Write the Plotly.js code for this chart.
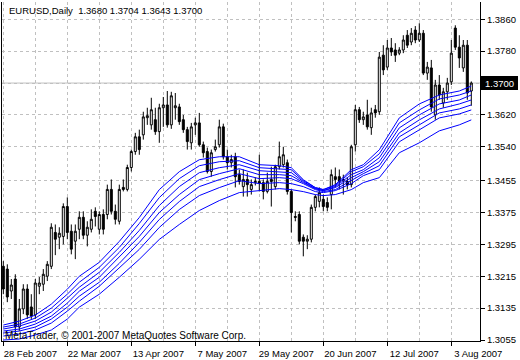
<!DOCTYPE html>
<html><head><meta charset="utf-8">
<script src="https://cdn.plot.ly/plotly-3.0.1.min.js"></script>
<style>html,body{margin:0;padding:0;background:#fff;}#chart{width:520px;height:360px;}</style>
</head><body><div id="chart"></div>
<script>
// Daily EURUSD bars, 28 Feb 2007 .. 10 Aug 2007 (one per trading day)
const opens = [1.3240,1.3233,1.3178,1.3208,1.3088,1.3133,1.3183,1.3138,1.3118,1.3190,
1.3195,1.3215,1.3240,1.3325,1.3313,1.3315,1.3390,1.3328,1.3303,1.3333,
1.3363,1.3318,1.3333,1.3378,1.3333,1.3370,1.3370,1.3433,1.3378,1.3353,
1.3438,1.3433,1.3488,1.3528,1.3565,1.3570,1.3613,1.3595,1.3608,1.3578,
1.3638,1.3645,1.3595,1.3638,1.3640,1.3608,1.3583,1.3550,1.3595,1.3600,
1.3545,1.3528,1.3478,1.3533,1.3545,1.3590,1.3515,1.3500,1.3515,1.3470,
1.3440,1.3458,1.3433,1.3450,1.3453,1.3450,1.3428,1.3458,1.3440,1.3490,
1.3495,1.3500,1.3428,1.3365,1.3370,1.3313,1.3303,1.3308,1.3388,1.3403,
1.3408,1.3400,1.3420,1.3465,1.3465,1.3455,1.3453,1.3445,1.3545,1.3633,
1.3608,1.3620,1.3588,1.3633,1.3628,1.3770,1.3740,1.3788,1.3783,1.3775,
1.3783,1.3820,1.3803,1.3833,1.3808,1.3825,1.3725,1.3738,1.3620,1.3695,
1.3650,1.3678,1.3703,1.3838,1.3790,1.3738,1.3795,1.3680];
const highs = [1.3253,1.3245,1.3208,1.3220,1.3158,1.3195,1.3195,1.3170,1.3208,1.3213,
1.3233,1.3253,1.3348,1.3345,1.3338,1.3398,1.3413,1.3345,1.3345,1.3378,
1.3378,1.3353,1.3383,1.3388,1.3378,1.3383,1.3445,1.3458,1.3395,1.3445,
1.3458,1.3495,1.3533,1.3575,1.3583,1.3628,1.3638,1.3663,1.3638,1.3648,
1.3665,1.3680,1.3678,1.3675,1.3648,1.3620,1.3590,1.3600,1.3613,1.3625,
1.3553,1.3538,1.3533,1.3558,1.3608,1.3598,1.3533,1.3520,1.3525,1.3483,
1.3483,1.3475,1.3458,1.3463,1.3520,1.3458,1.3475,1.3490,1.3495,1.3553,
1.3540,1.3508,1.3433,1.3378,1.3378,1.3320,1.3318,1.3395,1.3420,1.3438,
1.3420,1.3413,1.3483,1.3488,1.3483,1.3470,1.3463,1.3545,1.3645,1.3640,
1.3628,1.3658,1.3638,1.3645,1.3778,1.3795,1.3808,1.3813,1.3800,1.3790,
1.3820,1.3833,1.3838,1.3843,1.3850,1.3833,1.3753,1.3758,1.3708,1.3720,
1.3688,1.3713,1.3808,1.3845,1.3820,1.3808,1.3808,1.3704];
const lows = [1.3170,1.3150,1.3158,1.3070,1.3078,1.3120,1.3108,1.3108,1.3108,1.3170,
1.3178,1.3203,1.3233,1.3268,1.3283,1.3295,1.3308,1.3270,1.3258,1.3308,
1.3308,1.3290,1.3325,1.3340,1.3320,1.3320,1.3358,1.3370,1.3345,1.3345,
1.3428,1.3428,1.3478,1.3520,1.3520,1.3558,1.3595,1.3583,1.3570,1.3550,
1.3590,1.3588,1.3585,1.3608,1.3595,1.3575,1.3533,1.3533,1.3570,1.3540,
1.3513,1.3473,1.3465,1.3528,1.3538,1.3508,1.3483,1.3488,1.3438,1.3445,
1.3415,1.3415,1.3420,1.3443,1.3428,1.3408,1.3423,1.3390,1.3433,1.3483,
1.3488,1.3420,1.3325,1.3353,1.3295,1.3265,1.3283,1.3300,1.3378,1.3388,
1.3378,1.3378,1.3383,1.3438,1.3433,1.3420,1.3433,1.3438,1.3528,1.3600,
1.3595,1.3583,1.3570,1.3613,1.3620,1.3720,1.3733,1.3768,1.3753,1.3770,
1.3775,1.3788,1.3795,1.3800,1.3803,1.3720,1.3708,1.3628,1.3608,1.3658,
1.3638,1.3658,1.3695,1.3783,1.3738,1.3728,1.3658,1.3643];
const closes = [1.3183,1.3163,1.3193,1.3088,1.3133,1.3183,1.3118,1.3115,1.3198,1.3198,
1.3220,1.3245,1.3338,1.3308,1.3323,1.3390,1.3325,1.3283,1.3328,1.3363,
1.3318,1.3338,1.3358,1.3365,1.3370,1.3333,1.3433,1.3378,1.3358,1.3433,
1.3433,1.3488,1.3528,1.3565,1.3533,1.3615,1.3618,1.3633,1.3578,1.3638,
1.3645,1.3595,1.3668,1.3643,1.3603,1.3583,1.3553,1.3590,1.3600,1.3545,
1.3525,1.3478,1.3525,1.3540,1.3590,1.3515,1.3500,1.3508,1.3465,1.3453,
1.3458,1.3445,1.3445,1.3453,1.3448,1.3428,1.3453,1.3453,1.3490,1.3515,
1.3520,1.3428,1.3375,1.3363,1.3303,1.3303,1.3308,1.3388,1.3415,1.3425,
1.3390,1.3388,1.3470,1.3458,1.3453,1.3458,1.3445,1.3540,1.3633,1.3608,
1.3615,1.3590,1.3625,1.3625,1.3765,1.3733,1.3788,1.3778,1.3770,1.3783,
1.3808,1.3795,1.3825,1.3808,1.3825,1.3725,1.3740,1.3640,1.3695,1.3670,
1.3678,1.3700,1.3775,1.3790,1.3763,1.3795,1.3675,1.3700];

// Moving-average ribbon, read at these bar numbers
const maBars = [0,4,8,12,16,19,24,29,34,39,44,49,54,59,64,69,72,75,78,80,83,87,90,94,99,104,109,114,117];
const ma1 = [1.30925,1.31025,1.31175,1.31450,1.31825,1.32150,1.32500,1.33025,1.33625,1.34325,1.34775,1.35075,1.35150,1.35150,1.34950,1.34925,1.34875,1.34575,1.34375,1.34325,1.34450,1.34825,1.34950,1.35325,1.36125,1.36475,1.36700,1.36800,1.36925];
const ma2 = [1.30875,1.30950,1.31100,1.31350,1.31700,1.32000,1.32375,1.32875,1.33475,1.34125,1.34600,1.34925,1.35025,1.35050,1.34875,1.34850,1.34825,1.34550,1.34375,1.34325,1.34425,1.34775,1.34900,1.35225,1.36000,1.36325,1.36600,1.36700,1.36800];
const ma3 = [1.30825,1.30900,1.31025,1.31250,1.31600,1.31875,1.32250,1.32750,1.33300,1.33925,1.34400,1.34750,1.34875,1.34950,1.34800,1.34775,1.34750,1.34525,1.34350,1.34300,1.34400,1.34700,1.34825,1.35125,1.35875,1.36200,1.36475,1.36575,1.36700];
const ma4 = [1.30775,1.30825,1.30950,1.31150,1.31475,1.31775,1.32125,1.32625,1.33150,1.33750,1.34200,1.34575,1.34725,1.34850,1.34700,1.34700,1.34675,1.34500,1.34350,1.34300,1.34375,1.34625,1.34775,1.35025,1.35750,1.36075,1.36350,1.36475,1.36575];
const ma5 = [1.30725,1.30775,1.30875,1.31075,1.31375,1.31650,1.32000,1.32475,1.33000,1.33575,1.34025,1.34400,1.34575,1.34725,1.34600,1.34625,1.34600,1.34475,1.34325,1.34275,1.34325,1.34550,1.34725,1.34925,1.35650,1.35950,1.36250,1.36350,1.36450];
const ma6 = [1.30650,1.30700,1.30800,1.30975,1.31275,1.31525,1.31900,1.32350,1.32825,1.33375,1.33825,1.34175,1.34375,1.34550,1.34475,1.34500,1.34475,1.34400,1.34275,1.34250,1.34300,1.34475,1.34675,1.34825,1.35525,1.35825,1.36125,1.36225,1.36325];
const ma7 = [1.30550,1.30575,1.30675,1.30800,1.31075,1.31375,1.31700,1.32125,1.32575,1.33075,1.33450,1.33800,1.34050,1.34250,1.34300,1.34350,1.34325,1.34275,1.34200,1.34175,1.34200,1.34325,1.34500,1.34625,1.35250,1.35500,1.35800,1.35950,1.36075];

// Axis labels
const dateTickBars = [0,16,32,48,64,80,96,112];
const dateTickLabels = ["28 Feb 2007","22 Mar 2007","13 Apr 2007","7 May 2007","29 May 2007","20 Jun 2007","12 Jul 2007","3 Aug 2007"];
const priceTicks = [1.3055,1.3135,1.3215,1.3295,1.3375,1.3455,1.3540,1.3620,1.3700,1.3780,1.3860];
const headerText = "EURUSD,Daily  1.3680 1.3704 1.3643 1.3700";
const footerText = "MetaTrader, © 2001-2007 MetaQuotes Software Corp.";

const bars = opens.map((_, i) => i);
const lastClose = closes[closes.length - 1];
const FONT = "Liberation Sans, Arial, sans-serif";
const GRID = "#c0c0c0";

const traces = [{
  type: "candlestick", x: bars, open: opens, high: highs, low: lows, close: closes,
  increasing: {fillcolor: "#ffffff", line: {color: "#000000", width: 1}},
  decreasing: {fillcolor: "#000000", line: {color: "#000000", width: 1}},
  whiskerwidth: 0, hoverinfo: "skip", showlegend: false
}];
[ma1, ma2, ma3, ma4, ma5, ma6, ma7].forEach(m => traces.push({
  type: "scatter", mode: "lines", x: maBars, y: m,
  line: {color: "#0000ff", width: 1}, hoverinfo: "skip", showlegend: false
}));

const minorGrid = dateTickBars.map(v => v + 8);
// the tick at the last price is labelled by the black price box instead
const priceTickText = priceTicks.map(v => Math.abs(v - lastClose) < 1e-9 ? "" : v.toFixed(4));
const layout = {
  width: 520, height: 360,
  margin: {l: 2, r: 40, t: 2, b: 19, pad: 0},
  paper_bgcolor: "#ffffff", plot_bgcolor: "#ffffff",
  showlegend: false, boxgap: 0.5, boxgroupgap: 0,
  font: {family: FONT, size: 9.5, color: "#000000"},
  xaxis: {
    type: "linear", range: [-0.325, 119.175], fixedrange: true,
    rangeslider: {visible: false},
    tickmode: "array", tickvals: dateTickBars, ticktext: dateTickLabels,
    ticks: "outside", ticklen: 4, tickcolor: "#000000", ticklabelshift: 27,
    tickfont: {family: FONT, size: 9.5, color: "#000000"},
    showline: true, linecolor: "#000000", linewidth: 1,
    showgrid: true, gridcolor: GRID, gridwidth: 1, griddash: "3px,3px",
    minor: {tickmode: "array", tickvals: minorGrid, showgrid: true, gridcolor: GRID, gridwidth: 1, griddash: "3px,3px", ticks: ""},
    zeroline: false
  },
  yaxis: {
    side: "right", range: [1.30525, 1.390341], fixedrange: true,
    tickmode: "array", tickvals: priceTicks, ticktext: priceTickText,
    ticks: "outside", ticklen: 4, tickcolor: "#000000",
    tickfont: {family: FONT, size: 9.5, color: "#000000"},
    showline: true, mirror: true, linecolor: "#000000", linewidth: 1,
    showgrid: true, gridcolor: GRID, gridwidth: 1, griddash: "3px,3px",
    zeroline: false
  },
  shapes: [{
    type: "line", layer: "between", xref: "paper", x0: 0, x1: 1,
    yref: "y", y0: lastClose, y1: lastClose,
    line: {color: GRID, width: 1}
  }],
  annotations: [
    {xref: "paper", yref: "paper", x: 0, y: 1, xanchor: "left", yanchor: "middle",
     xshift: 5, yshift: -8, text: headerText, showarrow: false,
     font: {family: FONT, size: 9.5, color: "#000000"}},
    {xref: "paper", yref: "paper", x: 0, y: 0, xanchor: "left", yanchor: "middle",
     xshift: 1, yshift: 6, text: footerText, showarrow: false,
     font: {family: FONT, size: 10, color: "#000000"}},
    {xref: "paper", yref: "y", x: 1, y: lastClose, xanchor: "left", yanchor: "middle",
     xshift: 1, text: lastClose.toFixed(4), showarrow: false,
     bgcolor: "#000000", borderpad: 0, borderwidth: 0, width: 37, height: 14,
     font: {family: FONT, size: 9.5, color: "#ffffff"}}
  ]
};
Plotly.newPlot("chart", traces, layout, {staticPlot: true, displayModeBar: false});
</script>
</body></html>
